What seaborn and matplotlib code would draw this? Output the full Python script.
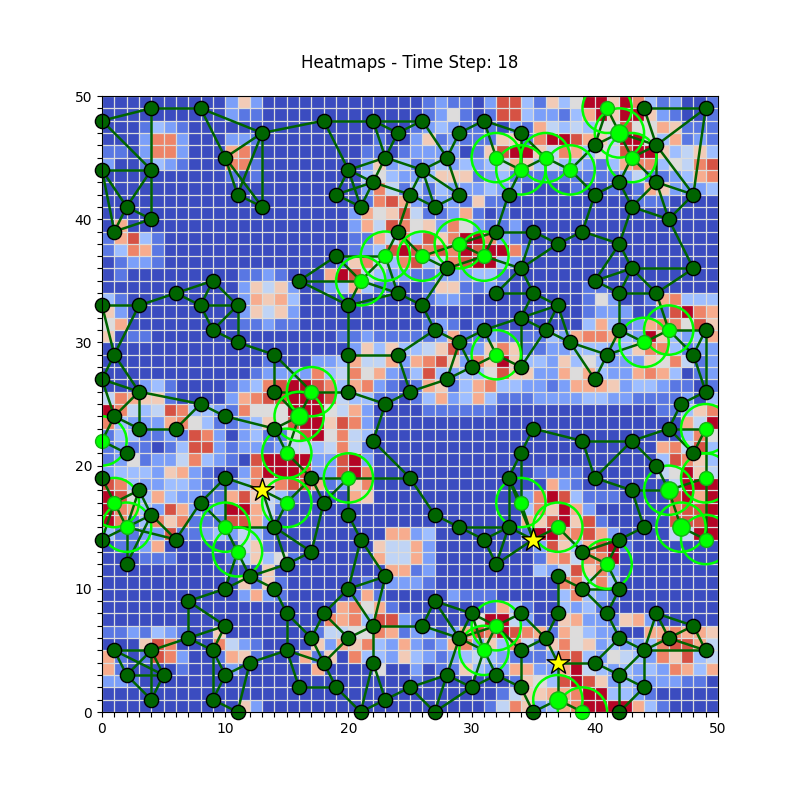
import matplotlib
matplotlib.use("Agg")
import matplotlib.pyplot as plt
from matplotlib.patches import Circle
import numpy as np
import pandas as pd
import seaborn as sns

TITLE = "Heatmaps - Time Step: 18"
X_LABEL = "X-Axis"
Y_LABEL = "Y-Axis"
TICK_LABELS = [0, 10, 20, 30, 40, 50]

# cell levels, top row (y=49) first; digits 0-9 and a = level 0..10 (tenths of the colour range)
# columns 0-24
HEAT_LEFT = [
    "0000000000 262 000000000000",
    "0000000000 211 000000000000",
    "0001321000 000 000000000000",
    "0002882000 221 000000000100",
    "1102882000 780 000000001101",
    "2001321000 881 000000002623",
    "0000000000 101 000000003532",
    "0000000000 000 000000002841",
    "0000000000 000 000000001897",
    "0000000000 000 000000027569",
    "0700000000 000 000000027498",
    "1793100000 000 000000011748",
    "1387100000 000 00000001239a",
    "0122100000 000 000000168438",
    "0100000000 011 210007a94322",
    "0000000000 026 462002373110",
    "3100000000 027 673000000000",
    "6200000000 026 462000000000",
    "5700000000 011 211000000000",
    "6011000000 000 000000112111",
    "0000000000 000 000000026363",
    "0000000000 000 100022374472",
    "0000000000 001 222283485721",
    "0002310000 123 89aa98378210",
    "4876610000 278 99aaa9433110",
    "a843498332 185 55aaa5472000",
    "8322278531 123 659aa6982000",
    "1331121982 023 1159a5843000",
    "1211013992 122 124434841000",
    "1251224832 109 aaaa229a2000",
    "2333267210 028 aaa9229a8000",
    "9832233211 138 689971268000",
    "a953732211 796 431000076000",
    "a873297212 aa7 410000000000",
    "a813868111 997 200000000000",
    "3112291123 243 100000000077",
    "0112700000 046 100000000644",
    "0001110000 136 351000000744",
    "0000000000 000 600000000077",
    "0000000000 061 610000001022",
    "0000000000 027 210000017100",
    "0000000000 000 000000785710",
    "0000000000 000 000008783992",
    "1121321006 000 000014455871",
    "0006980008 421 000062768327",
    "7101982001 761 000716083326",
    "7100001000 200 000070000500",
    "2210000000 000 000000000000",
    "0000000000 000 000000000000",
    "0000000000 062 000000000000",
]
# columns 25-49
HEAT_RIGHT = [
    "0121102993 1635aa6a83 12001",
    "0125101993 22137a6aa6 21001",
    "1232111021 7434355955 76111",
    "2612111661 8aa9764aa5 37121",
    "22220169aa 64873549aa 63463",
    "1232323476 3433213788 35489",
    "2366612311 1111111241 12378",
    "3132223220 0001001017 62223",
    "2122161100 0000000011 10000",
    "4112710100 0000000000 00000",
    "5628521120 0000000000 00000",
    "3968aa8210 0000000000 00000",
    "9898a9aa81 0000000000 00000",
    "93489aa320 0000000000 00000",
    "1122233100 0000000000 00000",
    "0166112100 0000110000 00000",
    "0122100000 0000152001 78333",
    "0000000000 0000122200 19a87",
    "0121010000 0000373127 88596",
    "1127112111 132788732a 63237",
    "3469126861 1223332368 83122",
    "7896286a63 3263532226 58412",
    "3932335966 2275732278 73012",
    "1761378332 2127776233 21101",
    "1372373111 2222332211 11203",
    "0111111000 0000000000 11368",
    "0000000000 0000000000 0074a",
    "0000000000 0000000000 00385",
    "0000000000 0000000000 78493",
    "0000000000 0000000000 39863",
    "0000000000 1111000000 45a64",
    "0000000000 0721000000 04aaa",
    "0000000002 8a93111000 09a7a",
    "0000000003 86a7200000 0899a",
    "0000000007 69a6910000 0999a",
    "2300000001 aa78972000 044aa",
    "7200000000 296379a100 00000",
    "7200000000 178488a000 00000",
    "1200000000 3249682000 00000",
    "2100000000 0088483000 00000",
    "0002111000 0038321000 00000",
    "0000001731 0032310000 00000",
    "100005aa42 0067221672 00000",
    "2202798a98 7175322007 78776",
    "2127826384 1685623223 89974",
    "3212343211 1289325432 86934",
    "2011632277 227a432323 28737",
    "1000000016 539a962322 22110",
    "0000000146 6778aa3321 00000",
    "0000001486 2378aaaa73 10000",
]

DARK_NODES = [
    (0,48),(4,49),(8,49),(13,47),(18,48),(22,48),(24,47),(26,48),(29,47),(31,48),(34,47),
    (10,45),(11,42),(13,41),(0,44),(4,44),(2,41),(4,40),(1,39),(20,44),(22,43),(19,42),(21,41),
    (23,45),(25,42),(26,44),(27,41),(28,45),(29,42),(33,42),(40,42),(40,46),(44,49),(45,46),(49,49),
    (42,43),(45,43),(43,41),(48,42),(46,40),(32,39),(35,39),(37,38),(39,39),(42,38),(24,39),
    (19,37),(16,35),(24,34),(20,33),(28,36),(34,36),(43,36),(48,36),(40,35),(42,34),(45,34),(32,34),
    (35,34),(26,33),(37,33),(34,32),(27,31),(31,31),(36,31),(42,31),(49,31),(29,30),(38,30),(41,29),
    (48,29),(30,28),(34,28),(28,27),(40,27),(25,26),(49,26),(47,25),(9,35),(6,34),(8,33),(11,33),
    (0,33),(3,33),(9,31),(11,30),(14,29),(20,29),(24,29),(1,29),(0,27),(3,26),(14,26),(20,26),
    (23,25),(8,25),(1,24),(3,23),(6,23),(10,24),(14,23),(2,21),(22,22),(0,19),(10,19),(17,19),(25,19),
    (3,18),(8,17),(18,17),(4,16),(20,16),(14,15),(0,14),(6,14),(21,14),(17,13),(15,12),(2,12),
    (23,11),(12,11),(10,10),(14,10),(20,10),(7,9),(15,8),(18,8),(10,7),(22,7),(7,6),(17,6),(20,6),
    (1,5),(4,5),(9,5),(15,5),(12,4),(18,4),(22,4),(2,3),(5,3),(10,3),(16,2),(19,2),(25,2),(4,1),(9,1),
    (23,1),(11,0),(21,0),(35,23),(39,22),(43,22),(46,23),(34,21),(48,21),(40,19),(45,20),(33,19),
    (43,18),(27,16),(29,15),(33,15),(44,15),(31,14),(42,14),(39,13),(32,12),(37,11),(39,10),(42,10),
    (27,9),(30,8),(34,8),(37,8),(41,8),(45,8),(26,7),(48,7),(29,6),(36,6),(42,6),(46,6),(34,5),(44,5),
    (49,5),(40,4),(28,3),(32,3),(42,3),(30,2),(34,2),(44,2),(27,0),(35,0),(42,0),
]
BRIGHT_SMALL = [
    (32,45),(34,44),(36,45),(38,44),(41,49),(43,45),(29,38),(31,37),(26,37),(23,37),(21,35),(46,31),
    (44,30),(32,29),(17,26),(0,22),(15,21),(20,19),(1,17),(15,17),(2,15),(10,15),(11,13),(49,23),
    (49,19),(34,17),(37,15),(49,14),(41,12),(32,7),(31,5),(39,0),
]
BRIGHT_LARGE = [(42,47),(16,24),(46,18),(47,15),(37,1)]
STARS = [(13,18),(35,14),(37,4)]

EDGES = [
    ((0,48),(4,49)),((4,49),(8,49)),((0,48),(4,44)),((4,49),(4,44)),((8,49),(13,47)),((8,49),(10,45)),
    ((13,47),(10,45)),((13,47),(11,42)),((13,47),(13,41)),((13,47),(18,48)),((10,45),(11,42)),((10,45),(13,41)),
    ((11,42),(13,41)),((0,44),(4,44)),((0,44),(2,41)),((0,44),(1,39)),((4,44),(2,41)),((4,44),(4,40)),
    ((2,41),(4,40)),((2,41),(1,39)),((1,39),(4,40)),((18,48),(22,48)),((18,48),(20,44)),((22,48),(24,47)),
    ((22,48),(23,45)),((22,48),(26,48)),((24,47),(23,45)),((24,47),(26,48)),((23,45),(20,44)),((23,45),(22,43)),
    ((23,45),(26,44)),((20,44),(22,43)),((20,44),(19,42)),((20,44),(21,41)),((22,43),(19,42)),((22,43),(21,41)),
    ((22,43),(25,42)),((19,42),(21,41)),((25,42),(24,39)),((24,39),(23,37)),((24,39),(26,37)),((23,37),(19,37)),
    ((23,37),(21,35)),((23,37),(24,34)),((19,37),(21,35)),((19,37),(16,35)),((16,35),(21,35)),((16,35),(20,33)),
    ((21,35),(24,34)),((21,35),(20,33)),((20,33),(24,34)),((24,34),(26,33)),((20,33),(20,29)),((20,29),(24,29)),
    ((20,29),(20,26)),((24,29),(25,26)),((24,29),(27,31)),((20,26),(23,25)),((23,25),(25,26)),((23,25),(22,22)),
    ((9,35),(6,34)),((9,35),(8,33)),((9,35),(11,33)),((6,34),(8,33)),((6,34),(3,33)),((8,33),(11,33)),
    ((8,33),(9,31)),((11,33),(9,31)),((11,33),(11,30)),((9,31),(11,30)),((11,30),(14,29)),((14,29),(14,26)),
    ((14,29),(17,26)),((0,33),(3,33)),((0,33),(1,29)),((3,33),(1,29)),((1,29),(0,27)),((1,29),(3,26)),
    ((0,27),(3,26)),((0,27),(1,24)),((3,26),(1,24)),((3,26),(3,23)),((3,26),(8,25)),((8,25),(6,23)),
    ((8,25),(10,24)),((14,26),(17,26)),((17,26),(20,26)),((17,26),(16,24)),((14,26),(16,24)),
    ((1,24),(0,22)),((1,24),(3,23)),((0,22),(2,21)),((3,23),(6,23)),((10,24),(14,23)),((14,23),(16,24)),
    ((14,23),(15,21)),((16,24),(15,21)),((15,21),(17,19)),((0,19),(1,17)),((1,17),(2,15)),((1,17),(3,18)),
    ((0,14),(1,17)),((0,14),(2,15)),((2,15),(3,18)),((2,15),(4,16)),((2,15),(6,14)),((2,15),(2,12)),
    ((4,16),(3,18)),((4,16),(2,12)),((4,16),(6,14)),((6,14),(8,17)),((8,17),(10,19)),((10,19),(10,15)),
    ((10,19),(13,18)),((8,17),(10,15)),((10,15),(14,15)),((10,15),(11,13)),((11,13),(12,11)),((11,13),(10,10)),
    ((13,18),(15,17)),((13,18),(14,15)),((15,17),(14,15)),((15,17),(17,19)),((17,19),(18,17)),((17,19),(20,19)),
    ((18,17),(17,13)),((20,19),(18,17)),((20,19),(25,19)),((20,19),(20,16)),((20,16),(21,14)),((21,14),(23,11)),
    ((21,14),(20,10)),((23,11),(20,10)),((20,10),(22,7)),((23,11),(22,7)),((14,15),(17,13)),((14,15),(15,12)),
    ((15,12),(17,13)),((15,12),(12,11)),((12,11),(14,10)),((12,11),(10,10)),((10,10),(7,9)),((14,10),(15,8)),
    ((15,8),(15,5)),((15,8),(17,6)),((17,6),(18,4)),((17,6),(18,8)),((18,8),(20,10)),((18,8),(20,6)),
    ((20,6),(22,7)),((20,6),(18,4)),((15,5),(18,4)),((15,5),(16,2)),((15,5),(12,4)),((18,4),(19,2)),
    ((16,2),(19,2)),((19,2),(21,0)),((22,4),(21,0)),((22,4),(23,1)),((22,7),(22,4)),((22,7),(26,7)),
    ((23,1),(25,2)),((21,0),(23,1)),((7,9),(7,6)),((7,9),(10,7)),((7,6),(10,7)),((7,6),(9,5)),((7,6),(4,5)),
    ((10,7),(9,5)),((9,5),(10,3)),((9,5),(9,1)),((12,4),(10,3)),((12,4),(11,0)),((10,3),(9,1)),((9,1),(11,0)),
    ((1,5),(4,5)),((1,5),(2,3)),((1,5),(5,3)),((4,5),(2,3)),((4,5),(5,3)),((4,5),(4,1)),((2,3),(5,3)),
    ((2,3),(4,1)),((5,3),(4,1)),((22,22),(25,19)),((25,19),(27,16)),((27,16),(29,15)),((29,15),(31,14)),
    ((29,15),(33,15)),((33,15),(31,14)),((31,14),(32,12)),((33,15),(32,12)),((33,19),(33,15)),((33,19),(34,21)),
    ((34,21),(34,17)),((34,21),(35,23)),((35,23),(39,22)),((39,22),(43,22)),((39,22),(40,19)),((43,22),(40,19)),
    ((43,22),(46,23)),((43,22),(45,20)),((46,23),(49,23)),((46,23),(47,25)),((33,19),(34,17)),((33,19),(35,14)),
    ((33,15),(35,14)),((32,12),(35,14)),((35,14),(37,15)),((35,14),(34,17)),((37,15),(39,13)),((39,13),(41,12)),
    ((39,13),(42,14)),((41,12),(42,14)),((41,12),(42,10)),((39,10),(41,12)),((39,10),(42,10)),((39,10),(37,11)),
    ((39,10),(41,8)),((37,11),(37,8)),((42,10),(41,8)),((41,8),(42,6)),((42,6),(44,5)),((42,6),(40,4)),
    ((40,19),(43,18)),((43,18),(46,18)),((44,15),(43,18)),((44,15),(42,14)),((45,20),(46,18)),((46,18),(47,15)),
    ((46,23),(48,21)),((49,23),(48,21)),((49,23),(49,19)),((49,19),(49,14)),((46,18),(49,19)),((47,15),(49,14)),
    ((40,4),(37,4)),((40,4),(42,3)),((37,4),(36,6)),((36,6),(37,8)),((37,4),(37,1)),((37,1),(35,0)),((37,1),(39,0)),
    ((42,3),(44,5)),((42,3),(42,0)),((42,3),(44,2)),((42,0),(44,2)),((44,5),(44,2)),((44,5),(45,8)),((44,5),(46,6)),
    ((44,5),(49,5)),((45,8),(48,7)),((45,8),(46,6)),((46,6),(48,7)),((46,6),(49,5)),((48,7),(49,5)),((34,8),(36,6)),
    ((34,5),(36,6)),((34,5),(34,2)),((34,2),(35,0)),((32,3),(31,5)),((32,3),(30,2)),((32,3),(34,2)),((30,2),(31,5)),
    ((30,2),(28,3)),((30,2),(27,0)),((28,3),(27,0)),((28,3),(25,2)),((28,3),(29,6)),((25,2),(27,0)),((29,6),(26,7)),
    ((29,6),(30,8)),((29,6),(27,9)),((29,6),(31,5)),((27,9),(26,7)),((27,9),(30,8)),((30,8),(32,7)),((30,8),(31,5)),
    ((32,7),(34,8)),((32,7),(31,5)),((32,7),(34,5)),((32,7),(29,6)),((26,48),(28,45)),((29,47),(28,45)),
    ((29,47),(31,48)),((31,48),(34,47)),((31,48),(32,45)),((28,45),(26,44)),((28,45),(29,42)),((26,44),(25,42)),
    ((26,44),(27,41)),((26,44),(29,42)),((25,42),(27,41)),((29,42),(27,41)),((32,45),(34,44)),((34,47),(34,44)),
    ((34,44),(36,45)),((36,45),(38,44)),((34,44),(33,42)),((33,42),(32,39)),((34,47),(36,45)),((38,44),(40,46)),
    ((38,44),(40,42)),((40,42),(42,43)),((42,43),(43,41)),((43,41),(45,43)),((45,43),(45,46)),((45,43),(48,42)),
    ((45,43),(46,40)),((43,41),(46,40)),((48,42),(46,40)),((48,42),(49,49)),((46,40),(48,36)),((43,41),(42,38)),
    ((42,38),(39,39)),((39,39),(37,38)),((39,39),(40,42)),((37,38),(34,36)),((35,39),(37,38)),((35,39),(34,36)),
    ((32,39),(35,39)),((32,39),(31,37)),((32,39),(29,38)),((29,38),(26,37)),((29,38),(31,37)),((31,37),(34,36)),
    ((31,37),(28,36)),((26,37),(28,36)),((28,36),(26,33)),((34,36),(32,34)),((34,36),(35,34)),((32,34),(35,34)),
    ((35,34),(37,33)),((35,34),(34,32)),((37,33),(34,32)),((37,33),(36,31)),((37,33),(38,30)),((34,32),(36,31)),
    ((34,32),(31,31)),((34,32),(34,28)),((36,31),(38,30)),((36,31),(34,28)),((38,30),(41,29)),((38,30),(40,27)),
    ((41,29),(40,27)),((41,29),(44,30)),((41,29),(42,31)),((42,31),(44,30)),((42,31),(42,34)),((44,30),(46,31)),
    ((46,31),(49,31)),((46,31),(48,29)),((46,31),(45,34)),((49,31),(48,29)),((49,31),(49,26)),((48,29),(49,26)),
    ((49,26),(47,25)),((42,38),(43,36)),((42,38),(40,35)),((43,36),(40,35)),((43,36),(42,34)),((43,36),(45,34)),
    ((43,36),(48,36)),((40,35),(42,34)),((42,34),(45,34)),((45,34),(48,36)),((26,33),(27,31)),((27,31),(29,30)),
    ((29,30),(31,31)),((29,30),(30,28)),((29,30),(28,27)),((30,28),(32,29)),((30,28),(28,27)),((31,31),(32,29)),
    ((32,29),(34,28)),((28,27),(25,26)),((41,49),(40,46)),((41,49),(42,47)),((40,46),(42,47)),((42,47),(43,45)),
    ((42,47),(45,46)),((44,49),(45,46)),((44,49),(49,49)),((43,45),(45,46)),((43,45),(45,43)),((43,45),(42,43)),
    ((45,46),(49,49)),((45,46),(48,42)),
]

def parse(rows, n=25):
    return [[int(c, 16) for c in (r.replace(" ", "") + "0" * n)[:n]] for r in rows]

levels = np.hstack([np.array(parse(HEAT_LEFT)), np.array(parse(HEAT_RIGHT))]) / 10.0
cells = pd.DataFrame(levels[::-1])

fig, ax = plt.subplots(figsize=(8, 8), dpi=100)
sns.heatmap(cells, ax=ax, cmap="coolwarm", vmin=0, vmax=1, cbar=False, square=True,
            xticklabels=False, yticklabels=False)
ax.set_xlim(0, 50)
ax.set_ylim(0, 50)
ax.set_aspect("equal")

for (a, b) in EDGES:
    ax.plot([a[0], b[0]], [a[1], b[1]], color="#006400", lw=1.8, zorder=3)

for x, y in BRIGHT_SMALL + BRIGHT_LARGE:
    ax.add_patch(Circle((x, y), 2, fill=False, edgecolor="#00ff00", lw=1.8, zorder=4))

def nodes(pts, **kw):
    frame = pd.DataFrame(pts, columns=["x", "y"])
    sns.scatterplot(data=frame, x="x", y="y", ax=ax, legend=False, clip_on=False, **kw)

nodes(DARK_NODES, s=105, color="#006400", edgecolor="black", linewidth=1.0, zorder=5)
nodes(BRIGHT_SMALL, s=100, color="#00ff00", edgecolor="#16b016", linewidth=1.0, zorder=6)
nodes(BRIGHT_LARGE, s=155, color="#00ff00", edgecolor="#16b016", linewidth=1.0, zorder=6)
nodes(STARS, s=300, color="yellow", edgecolor="black", linewidth=1.0, marker="*", zorder=7)

ax.set_xticks(TICK_LABELS)
ax.set_yticks(TICK_LABELS)
ax.set_xticklabels([str(v) for v in TICK_LABELS], rotation=0)
ax.set_yticklabels([str(v) for v in TICK_LABELS], rotation=0)
ax.set_xticks(np.arange(0, 51), minor=True)
ax.set_yticks(np.arange(0, 51), minor=True)
ax.tick_params(which="major", length=3.5, width=0.8, labelsize=10)
ax.tick_params(which="minor", length=3.5, width=0.8)
ax.grid(which="minor", color="#dcdcdc", linewidth=0.9, zorder=2)
ax.grid(which="major", color="#dcdcdc", linewidth=0.9, zorder=2)
for s in ax.spines.values():
    s.set_visible(True)
    s.set_linewidth(0.8)
    s.set_zorder(10)
ax.set_xlabel(X_LABEL, fontsize=10)
ax.set_ylabel(Y_LABEL, fontsize=10)
ax.set_title(TITLE, fontsize=12, y=1.0, pad=20)
fig.savefig("out.png", dpi=100)
